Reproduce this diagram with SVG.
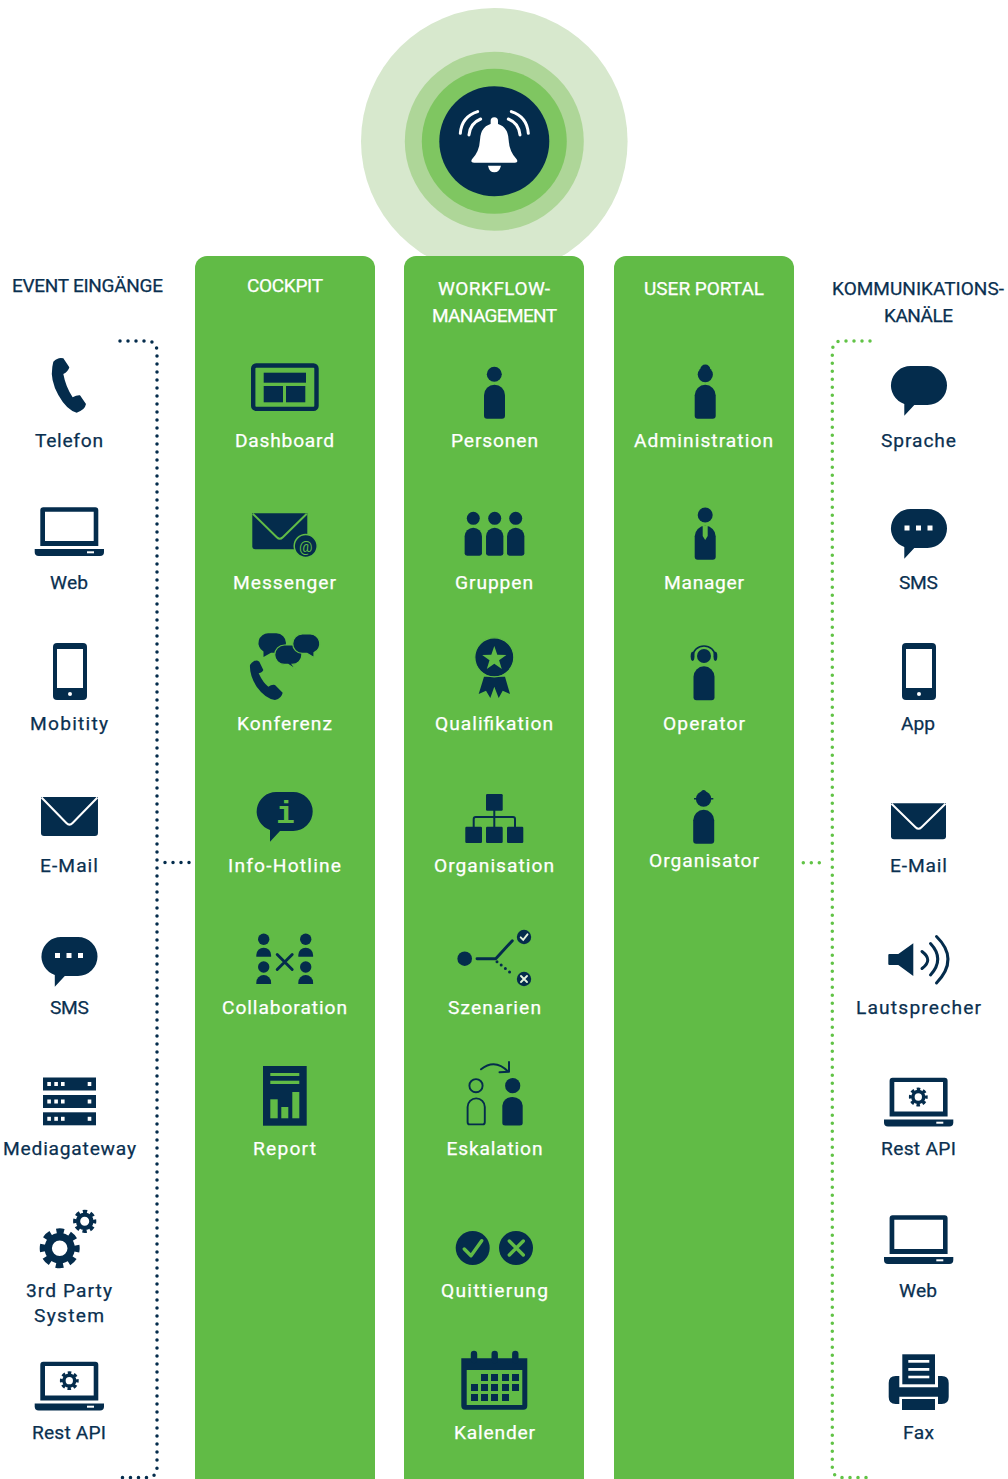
<svg xmlns="http://www.w3.org/2000/svg" xmlns:xlink="http://www.w3.org/1999/xlink" width="1008" height="1479" viewBox="0 0 1008 1479">
<style>
text{font-family:"Roboto","Liberation Sans",sans-serif;font-size:19.2px;text-anchor:middle}
.h{font-size:19px}
.w{fill:#fff;stroke:#fff;stroke-width:.25}
.k{fill:#0a3050;stroke:#0a3050;stroke-width:.25}
.d{fill:#042c4c}
.g{fill:#61bb46}
.wf{fill:#fff}
.ln{fill:none;stroke:#042c4c;stroke-linecap:round;stroke-linejoin:round}
.gl{fill:none;stroke:#61bb46;stroke-linecap:round;stroke-linejoin:round}
.dots{fill:none;stroke-width:3.5;stroke-linecap:round;stroke-dasharray:0 8}
</style>
<defs>
<path id="body" class="d" d="M-7.5 34Q-10.5 34-10.5 31V10.5A10.5 10.5 0 0 1 10.5 10.5V31Q10.5 34 7.5 34Z"/>
<g id="laptop" class="d">
<path fill-rule="evenodd" d="M8.6 0H60.6a3 3 0 0 1 3 3V38.7H5.6V3a3 3 0 0 1 3-3ZM10.3 4.4V33.7H59V4.4Z"/>
<path d="M0 41.7H69.3V44.7a4 4 0 0 1-4 4H4a4 4 0 0 1-4-4Z"/>
<rect class="wf" x="52.3" y="44" width="7" height="2"/>
</g>
<g id="gear">
<circle r="11.5" fill="none" stroke="#042c4c" stroke-width="7.4"/>
<circle r="16.8" fill="none" stroke="#042c4c" stroke-width="6.4" stroke-dasharray="7.4 5.79" stroke-dashoffset="3.7"/>
</g>
<path id="bubble" class="d" d="M19.5 0H36.5A19.5 19.5 0 0 1 36.5 39H23.3L13.3 49.7V38A19.5 19.5 0 0 1 19.5 0Z"/>
<g id="mobile">
<rect class="d" width="34" height="57" rx="4"/>
<rect class="wf" x="4" y="6" width="26" height="39"/>
<circle class="wf" cx="17" cy="51" r="2"/>
</g>
<path id="envbody" class="d" d="M0 0H55V33a3 3 0 0 1-3 3H3a3 3 0 0 1-3-3Z"/>
<path id="envv" d="M0.5 0.5L24.5 24Q27.5 27 30.5 24L54.5 0.5" fill="none" stroke-width="2"/>
<g id="threedots" class="wf"><rect x="0" width="5" height="5"/><rect x="11.5" width="5" height="5"/><rect x="23" width="5" height="5"/></g>
<path id="halfp" class="d" d="M-7.4 9V7.4A7.4 7.4 0 0 1 7.4 7.4V9Z"/>
<g id="srv" class="d"><rect width="53" height="13"/><g class="wf"><rect x="4.3" y="4.5" width="3.6" height="4"/><rect x="11.3" y="4.5" width="3.6" height="4"/><rect x="18" y="4.5" width="3.6" height="4"/><rect x="44.7" y="4.5" width="3.6" height="4"/></g></g>
</defs>

<g id="bell-hub">
<circle cx="494.3" cy="141.3" r="133.3" fill="#d7e8cd"/>
<circle cx="494.3" cy="141.3" r="89.5" fill="#aed698"/>
<circle cx="494.3" cy="141.3" r="72.5" fill="#7fc661"/>
<circle cx="494.3" cy="141.3" r="55" class="d"/>
<g transform="translate(350 0) scale(.3333)">
<rect class="wf" x="422" y="352" width="22" height="30" rx="11"/>
<path class="wf" d="M433 370Q392 375 390 420Q388 455 366 478Q360 488 372 488H495Q506 488 500 478Q478 455 476 420Q474 375 433 370Z"/>
<path class="wf" d="M414 497H453Q448 517 433 517Q418 517 414 497Z"/>
<path fill="none" stroke="#fff" stroke-width="9" stroke-linecap="round" d="M331 400Q335 350 383 335M357 405Q360 370 392 357M535 400Q531 350 484 335M510 405Q507 370 475 357"/>
</g>
</g>

<g id="col-cockpit"><rect class="g" x="195" y="256" width="180" height="1240" rx="12"/><text class="w h" x="285" y="292" textLength="76">COCKPIT</text></g>
<g id="col-workflow"><rect class="g" x="404" y="256" width="180" height="1240" rx="12"/><text class="w h" x="494" y="295" textLength="112">WORKFLOW-</text><text class="w h" x="494.5" y="322" textLength="125">MANAGEMENT</text></g>
<g id="col-portal"><rect class="g" x="614" y="256" width="180" height="1240" rx="12"/><text class="w h" x="704" y="295" textLength="120">USER PORTAL</text></g>
<text id="head-events" class="k h" x="87.5" y="292" textLength="151">EVENT EINGÄNGE</text>
<g id="head-kanaele"><text class="k h" x="918" y="295" textLength="172">KOMMUNIKATIONS-</text><text class="k h" x="918.5" y="322" textLength="69">KANÄLE</text></g>

<g id="connectors">
<path class="dots" stroke="#042c4c" d="M120 341H147Q157 341 157 352V1467Q157 1477.5 147 1477.5H120"/>
<path class="dots" stroke="#042c4c" d="M165 862.5H190"/>
<path class="dots" stroke="#61c346" d="M870 341H842Q832.3 341 832.3 352V1467Q832.3 1477.5 842 1477.5H870"/>
<path class="dots" stroke="#61c346" d="M803.3 862.7H826"/>
</g>

<g id="ev-telefon"><path class="d" transform="translate(0 260) scale(.3333)" d="M160 305Q175 290 190 295L208 322Q205 335 190 342Q197 380 218 412Q230 405 240 406L258 432Q255 450 230 458Q200 450 175 405Q150 360 157 320Z"/><text class="k" x="69" y="447" textLength="68">Telefon</text></g>
<g id="ev-web"><use href="#laptop" x="34.7" y="507.3"/><text class="k" x="69" y="589" textLength="38">Web</text></g>
<g id="ev-mobility"><use href="#mobile" x="53" y="643"/><text class="k" x="69" y="730" textLength="78">Mobitity</text></g>
<g id="ev-email"><g transform="translate(41 797) scale(1.036 1.083)"><use href="#envbody"/><use href="#envv" stroke="#fff"/></g><text class="k" x="69" y="872" textLength="58">E-Mail</text></g>
<g id="ev-sms"><use href="#bubble" x="41.5" y="937"/><use href="#threedots" x="55" y="953"/><text class="k" x="69.5" y="1014" textLength="39">SMS</text></g>
<g id="ev-mediagateway"><use href="#srv" x="43" y="1077.5"/><use href="#srv" x="43" y="1095"/><use href="#srv" x="43" y="1112.3"/><text class="k" x="69.5" y="1155" textLength="133">Mediagateway</text></g>
<g id="ev-3rdparty"><use href="#gear" transform="translate(59.7 1248.3)"/><use href="#gear" transform="translate(84.7 1221.3) scale(.58)"/><text class="k" x="69" y="1297" textLength="86">3rd Party</text><text class="k" x="69" y="1322" textLength="70">System</text></g>
<g id="ev-restapi"><use href="#laptop" x="34.7" y="1361.7"/><use href="#gear" transform="translate(69.3 1380.7) scale(.47)"/><text class="k" x="69" y="1439" textLength="74">Rest API</text></g>

<g id="c-dashboard"><rect x="253.2" y="365.5" width="63.3" height="43.4" rx="3" class="ln" stroke-width="4.4"/><rect class="d" x="263.7" y="372.7" width="42.3" height="10"/><rect class="d" x="263.7" y="386" width="19.3" height="16.3"/><rect class="d" x="286" y="386" width="19.3" height="16.3"/><text class="w" x="284.5" y="447" textLength="99">Dashboard</text></g>
<g id="c-messenger"><g transform="translate(252.3 513.3)"><use href="#envbody"/><use href="#envv" stroke="#61bb46"/></g><circle class="d" cx="305.7" cy="546" r="11.5" stroke="#61bb46" stroke-width="1.5"/><text x="305.7" y="551.5" style="font-size:15px" class="g">@</text><text class="w" x="284.5" y="589" textLength="103">Messenger</text></g>
<g id="c-konferenz">
<path class="d" transform="translate(200 340) scale(.3333)" d="M150 975Q165 955 178 965L190 990Q188 997 176 1000Q190 1030 205 1040Q215 1033 225 1035L248 1058Q245 1075 225 1080Q195 1075 170 1040Q148 1005 150 975Z"/>
<path class="d" d="M268.5 633.3H276.3A9.7 9.7 0 0 1 276.3 652.7H271L263.5 657V651.5A9.7 9.7 0 0 1 268.5 633.3Z"/>
<path class="d" stroke="#61bb46" stroke-width="1.2" d="M284.4 645H292.2A9.7 9.7 0 0 1 292.2 664.4L296 669.5L288 664.4H284.4A9.7 9.7 0 0 1 284.4 645Z"/>
<path class="d" stroke="#61bb46" stroke-width="1.2" d="M302.4 634H310.2A9.7 9.7 0 0 1 314 652.6V657.5L307 653.4H302.4A9.7 9.7 0 0 1 302.4 634Z"/>
<text class="w" x="284.5" y="730" textLength="95">Konferenz</text></g>
<g id="c-infohotline"><use href="#bubble" x="256.7" y="792"/><text class="g" x="285.5" y="822.7" style="font-family:'Liberation Mono',monospace;font-weight:bold;font-size:31px">i</text><text class="w" x="284.5" y="872" textLength="113">Info-Hotline</text></g>
<g id="c-collaboration">
<circle class="d" cx="263.7" cy="939.3" r="5.7"/><use href="#halfp" x="263.7" y="947.7"/><circle class="d" cx="263.7" cy="967" r="5.7"/><use href="#halfp" x="263.7" y="975"/>
<circle class="d" cx="305.7" cy="939.3" r="5.7"/><use href="#halfp" x="305.7" y="947.7"/><circle class="d" cx="305.7" cy="967" r="5.7"/><use href="#halfp" x="305.7" y="975"/>
<path class="ln" stroke-width="2.9" d="M277.2 954.5L292.2 969.5M292.2 954.5L277.2 969.5"/>
<text class="w" x="284.5" y="1014" textLength="125">Collaboration</text></g>
<g id="c-report"><rect class="d" x="263" y="1066" width="43.7" height="59.7"/><g class="g"><rect x="270.3" y="1073" width="29" height="3"/><rect x="270.3" y="1080.7" width="29" height="3.3"/><rect x="270.3" y="1099.3" width="7.4" height="19"/><rect x="281.3" y="1107" width="7" height="11.3"/><rect x="292.3" y="1092" width="7" height="26.3"/></g><text class="w" x="284.5" y="1155" textLength="63">Report</text></g>

<g id="w-personen"><circle class="d" cx="494.3" cy="374.3" r="7.5"/><use href="#body" x="494.5" y="384.7"/><text class="w" x="494.5" y="447" textLength="87">Personen</text></g>
<g id="w-gruppen"><circle class="d" cx="473.3" cy="518.3" r="6.5"/><circle class="d" cx="494.7" cy="518.3" r="6.5"/><circle class="d" cx="515.7" cy="518.3" r="6.5"/><use href="#body" transform="translate(473.3 527.7) scale(.825 .824)"/><use href="#body" transform="translate(494.7 527.7) scale(.825 .824)"/><use href="#body" transform="translate(515.7 527.7) scale(.825 .824)"/><text class="w" x="494" y="589" textLength="78">Gruppen</text></g>
<g id="w-qualifikation">
<path class="d" d="M484 676.7H505L510 694L502.7 690.7L498.7 698L494.3 686.7L490.3 698L486 690.7L478.7 694Z"/>
<circle class="d" cx="494.3" cy="657.3" r="19.5" stroke="#61bb46" stroke-width="1.2"/>
<path class="g" d="M494.3 646L497.3 654.7L506.4 654.9L499.1 660.3L501.8 669L494.3 663.8L486.8 669L489.5 660.3L482.2 654.9L491.3 654.7Z"/>
<text class="w" x="494" y="730" textLength="118">Qualifikation</text></g>
<g id="w-organisation"><path class="ln" stroke-width="2" d="M494.3 810V827M473.7 827V819Q473.7 817 475.7 817H513Q515 817 515 819V827"/><rect class="d" x="486" y="794" width="16.7" height="16.7" rx="1.2"/><rect class="d" x="465.3" y="826.7" width="16.7" height="16.3" rx="1.2"/><rect class="d" x="486" y="826.7" width="16.7" height="16.3" rx="1.2"/><rect class="d" x="507" y="826.7" width="16.3" height="16.3" rx="1.2"/><text class="w" x="494" y="872" textLength="120">Organisation</text></g>
<g id="w-szenarien"><circle class="d" cx="464.7" cy="958.7" r="7.3"/><path class="ln" stroke-width="2.9" d="M477 958.7H495.7L512.3 940.7"/><path class="ln" stroke-width="3" stroke-dasharray="0 5.4" d="M497 961.7L513.3 975"/><circle class="d" cx="524" cy="937" r="7.2"/><circle class="d" cx="524" cy="979" r="7.2"/><path fill="none" stroke="#e4f3dc" stroke-width="1.9" stroke-linecap="round" d="M520.7 937.3L523.2 939.8L527.5 934.3M521 976L527 982M527 976L521 982"/><text class="w" x="494.5" y="1014" textLength="93">Szenarien</text></g>
<g id="w-eskalation"><path class="ln" stroke-width="2" d="M481 1069.3Q495 1058 508.3 1071.7M509 1062V1071.7L499.5 1072.3"/><circle cx="476" cy="1085.7" r="6.6" class="ln" stroke-width="1.9"/><path class="ln" stroke-width="1.9" d="M469.5 1124.4Q467.6 1124.4 467.6 1122V1107A8.6 8.6 0 0 1 484.8 1107V1122Q484.8 1124.4 482.9 1124.4Z"/><circle class="d" cx="512.7" cy="1085.7" r="7.6"/><use href="#body" transform="translate(512.5 1097) scale(.97 .84)"/><text class="w" x="494.5" y="1155" textLength="96">Eskalation</text></g>
<g id="w-quittierung"><circle class="d" cx="472.7" cy="1248" r="17"/><circle class="d" cx="516" cy="1248" r="17"/><path class="gl" stroke-width="3.4" d="M464.3 1249L471 1255.7L481.7 1240.7M509.3 1241L523.3 1255M523.3 1241L509.3 1255"/><text class="w" x="494.5" y="1297" textLength="107">Quittierung</text></g>
<g id="w-kalender"><path class="d" d="M461.3 1358.3H527.3V1405.7a4 4 0 0 1-4 4H465.3a4 4 0 0 1-4-4Z"/><rect class="g" x="466.7" y="1370" width="55.6" height="35"/><path class="ln" stroke-width="6.4" d="M474 1354V1360M494.7 1354V1360M515.3 1354V1360"/><g class="d">
<rect x="481" y="1374" width="7" height="7"/><rect x="491" y="1374" width="7" height="7"/><rect x="502" y="1374" width="7" height="7"/><rect x="512" y="1374" width="7" height="7"/>
<rect x="471" y="1384" width="7" height="7"/><rect x="481" y="1384" width="7" height="7"/><rect x="491" y="1384" width="7" height="7"/><rect x="502" y="1384" width="7" height="7"/><rect x="512" y="1384" width="7" height="7"/>
<rect x="471" y="1394" width="7" height="7"/><rect x="481" y="1394" width="7" height="7"/><rect x="491" y="1394" width="7" height="7"/><rect x="502" y="1394" width="7" height="7"/></g><text class="w" x="494.5" y="1439" textLength="81">Kalender</text></g>

<g id="p-administration"><circle class="d" cx="705.3" cy="369.5" r="5"/><circle class="d" cx="705.3" cy="374.6" r="7.6"/><use href="#body" x="705.2" y="384.8"/><text class="w" x="703.5" y="447" textLength="139">Administration</text></g>
<g id="p-manager"><circle class="d" cx="705.2" cy="515" r="7.5"/><use href="#body" x="705.2" y="525.8"/><path class="g" d="M702.7 525.8H707.7V536L705.2 540L702.7 536Z"/><text class="w" x="704" y="589" textLength="80">Manager</text></g>
<g id="p-operator"><circle class="d" cx="704" cy="656" r="7"/><path class="ln" stroke-width="1.6" d="M693 656A11 10 0 0 1 715 656"/><ellipse class="d" cx="692.6" cy="656.3" rx="1.9" ry="4.6"/><ellipse class="d" cx="715.4" cy="656.3" rx="1.9" ry="4.6"/><use href="#body" x="704" y="666.3"/><text class="w" x="704" y="730" textLength="82">Operator</text></g>
<g id="p-organisator"><circle class="d" cx="703.6" cy="799" r="7.7"/><circle class="d" cx="703.6" cy="792.5" r="2.5"/><rect class="d" x="694" y="798" width="19.3" height="1.5"/><use href="#body" x="703.7" y="809.8"/><text class="w" x="704" y="867" textLength="110">Organisator</text></g>

<g id="k-sprache"><use href="#bubble" x="891" y="366"/><text class="k" x="918.5" y="447" textLength="75">Sprache</text></g>
<g id="k-sms"><use href="#bubble" x="891" y="509"/><use href="#threedots" x="904.5" y="525.5"/><text class="k" x="918.5" y="589" textLength="39">SMS</text></g>
<g id="k-app"><use href="#mobile" x="902" y="643"/><text class="k" x="918" y="730" textLength="34">App</text></g>
<g id="k-email"><g transform="translate(891 803.3)"><use href="#envbody"/><use href="#envv" stroke="#fff"/></g><text class="k" x="918.5" y="872" textLength="57">E-Mail</text></g>
<g id="k-lautsprecher"><path class="d" d="M888.3 955Q888.3 954 889.3 954H898.3L913.3 943.3V976L898.3 965H889.3Q888.3 965 888.3 964Z"/><path class="ln" stroke-width="3" d="M922 951.5Q933.5 960 922 968.5M930.5 943.5Q945 959 930.5 975M936.5 936.5Q959.5 959 936.5 983"/><text class="k" x="918.5" y="1014" textLength="125">Lautsprecher</text></g>
<g id="k-restapi"><use href="#laptop" x="884" y="1077.7"/><use href="#gear" transform="translate(918.3 1097) scale(.47)"/><text class="k" x="918.5" y="1155" textLength="75">Rest API</text></g>
<g id="k-web"><use href="#laptop" x="884" y="1215.3"/><text class="k" x="918" y="1297" textLength="38">Web</text></g>
<g id="k-fax"><rect class="d" x="902.3" y="1354.3" width="32.7" height="30"/><g class="wf"><rect x="908.3" y="1360" width="21" height="2.7"/><rect x="908.3" y="1368" width="21" height="2.8"/><rect x="908.3" y="1375.7" width="21" height="2.6"/></g><path class="d" d="M895.7 1376H899.3V1387.3H938V1376H941.7Q948.7 1376 948.7 1383V1397Q948.7 1404 941.7 1404H938V1396.7H899.3V1404H895.7Q888.7 1404 888.7 1397V1383Q888.7 1376 895.7 1376Z"/><rect class="d" x="902" y="1399" width="33" height="11"/><text class="k" x="918.5" y="1439" textLength="31">Fax</text></g>
</svg>
